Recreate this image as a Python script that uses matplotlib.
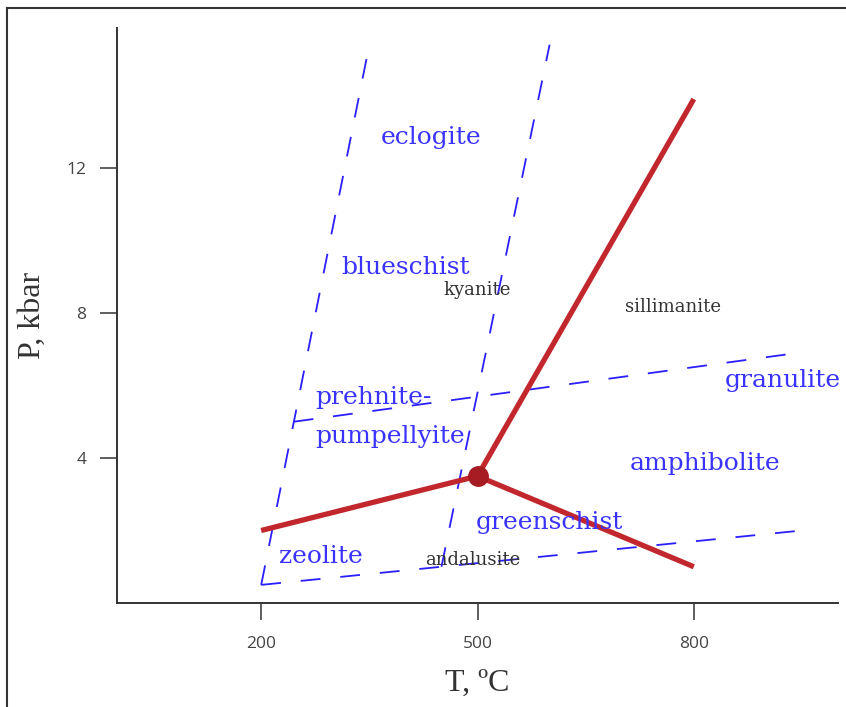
import matplotlib
matplotlib.use("Agg")
import matplotlib.pyplot as plt
from matplotlib.lines import Line2D

# Triple point and Al2SiO5 reaction lines (T in degC, P in kbar)
triple = (500, 3.5)
ky_and_T = [200, 500]
ky_and_P = [2.0, 3.5]
ky_sil_T = [500, 800]
ky_sil_P = [3.5, 13.9]
and_sil_T = [500, 800]
and_sil_P = [3.5, 1.0]

# Facies boundaries (dashed)
bound_left_T = [200, 350]
bound_left_P = [0.5, 15.4]
bound_mid_T = [450, 600]
bound_mid_P = [1.0, 15.4]
bound_low_T = [200, 950]
bound_low_P = [0.5, 2.0]
bound_prehn_T = [245, 945]
bound_prehn_P = [5.0, 6.9]

facies = ["eclogite", "blueschist", "prehnite-", "pumpellyite", "granulite",
          "amphibolite", "greenschist", "zeolite"]
facies_T = [435, 400, 275, 275, 843, 815, 600, 283]
facies_P = [12.85, 9.25, 5.68, 4.6, 6.15, 3.86, 2.23, 1.27]
facies_ha = ["center", "center", "left", "left", "left", "center", "center", "center"]

minerals = ["kyanite", "sillimanite", "andalusite"]
minerals_T = [500, 771, 494]
minerals_P = [8.63, 8.17, 1.19]

xticks = [200, 500, 800]
yticks = [4, 8, 12]

fig = plt.figure(figsize=(8.46, 7.07), dpi=100)
ax = fig.add_axes([117 / 846, 1 - 603 / 707, (838 - 117) / 846, (603 - 28) / 707])

blue = "#2a1fff"
dash = dict(color=blue, lw=1.3, dashes=(11, 11), clip_on=False)
for T, P in [(bound_left_T, bound_left_P), (bound_mid_T, bound_mid_P),
             (bound_low_T, bound_low_P), (bound_prehn_T, bound_prehn_P)]:
    ax.plot(T, P, **dash)

red = "#c1272d"
for T, P in [(ky_and_T, ky_and_P), (ky_sil_T, ky_sil_P), (and_sil_T, and_sil_P)]:
    ax.plot(T, P, color=red, lw=3.8, solid_capstyle="butt")
ax.plot(*triple, "o", color="#a61c22", ms=14, zorder=5)

for name, t, p, ha in zip(facies, facies_T, facies_P, facies_ha):
    ax.text(t, p, name, color="#3a33ff", fontsize=18, family="DejaVu Serif",
            ha=ha, va="center", clip_on=False)
for name, t, p in zip(minerals, minerals_T, minerals_P):
    ax.text(t, p, name, color="#333333", fontsize=13, family="DejaVu Serif",
            ha="center", va="center")

ax.set_xlim(0, 1000)
ax.set_ylim(0, 15.86)
ax.set_xticks(xticks)
ax.set_yticks(yticks)
ax.tick_params(length=12, width=1.1, color="#333333", labelcolor="#444444",
               labelsize=12.5)
ax.tick_params(axis="x", pad=12)
ax.tick_params(axis="y", pad=10)
for lab in ax.get_xticklabels() + ax.get_yticklabels():
    lab.set_family("Open Sans")
for s in ["top", "right"]:
    ax.spines[s].set_visible(False)
for s in ["left", "bottom"]:
    ax.spines[s].set_linewidth(1.4)
    ax.spines[s].set_color("#333333")

ax.set_xlabel("T, ºC", fontsize=23, family="Liberation Serif", color="#333333",
              labelpad=12)
ax.set_ylabel("P, kbar", fontsize=23, family="Liberation Serif", color="#333333",
              labelpad=14)

# frame of the original picture (left and top edges)
fig.add_artist(Line2D([7 / 846, 7 / 846], [0, 1 - 8 / 707], color="#333333", lw=1.5))
fig.add_artist(Line2D([7 / 846, 1], [1 - 8 / 707, 1 - 8 / 707], color="#333333", lw=1.5))

fig.savefig("out.png", dpi=100)
